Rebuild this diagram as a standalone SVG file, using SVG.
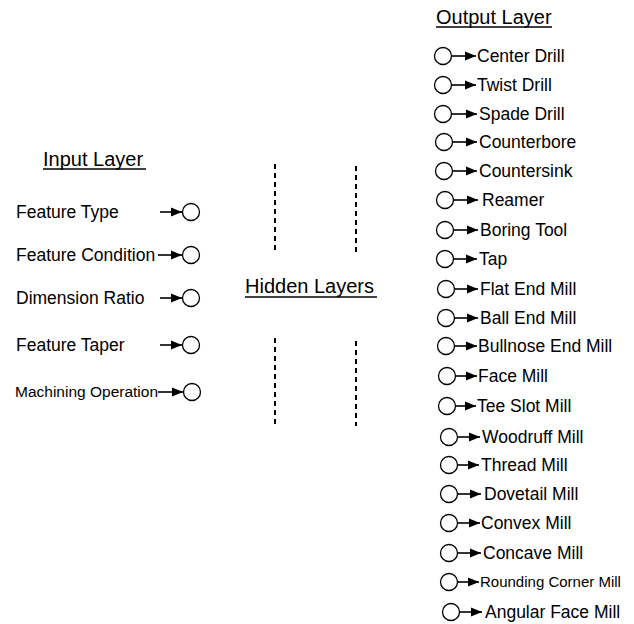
<svg xmlns="http://www.w3.org/2000/svg" width="634" height="624" viewBox="0 0 634 624">
<style>
.h{font-family:"Liberation Sans",Arial,sans-serif;font-size:20px;fill:#000}
.t{font-family:"Liberation Sans",Arial,sans-serif;font-size:17.5px;fill:#000}
.s{font-size:15px}
.m{font-size:15.5px}
.n{fill:#fff;stroke:#000;stroke-width:1.3}
.c{stroke:#000;stroke-width:1.6;fill:none}
.u{stroke:#000;stroke-width:1.4}
.d{stroke:#000;stroke-width:2;stroke-dasharray:5 4}
</style>
<defs>
<marker id="ah" markerUnits="userSpaceOnUse" markerWidth="12" markerHeight="10" refX="11" refY="5" orient="auto">
<path d="M0,0.5 L11,5 L0,9.5 Z" fill="#000"/>
</marker>
</defs>
<rect width="634" height="624" fill="#fff"/>
<g id="headers">
<text class="h" x="43" y="166">Input Layer</text>
<line class="u" x1="43" y1="169" x2="146" y2="169"/>
<text class="h" x="245" y="293">Hidden Layers</text>
<line class="u" x1="245" y1="297" x2="377" y2="297"/>
<text class="h" x="436" y="24">Output Layer</text>
<line class="u" x1="436" y1="27" x2="552" y2="27"/>
</g>
<g id="hidden">
<line class="d" x1="275" y1="164" x2="275" y2="252"/>
<line class="d" x1="356" y1="166" x2="356" y2="253"/>
<line class="d" x1="275" y1="338" x2="275" y2="424"/>
<line class="d" x1="356" y1="341" x2="356" y2="426"/>
</g>
<g id="connectors">
<line class="c" x1="160" y1="212" x2="182" y2="212" marker-end="url(#ah)"/>
<line class="c" x1="158" y1="255" x2="182" y2="255" marker-end="url(#ah)"/>
<line class="c" x1="160" y1="298" x2="182" y2="298" marker-end="url(#ah)"/>
<line class="c" x1="160" y1="345" x2="182" y2="345" marker-end="url(#ah)"/>
<line class="c" x1="158" y1="392" x2="183" y2="392" marker-end="url(#ah)"/>
<line class="c" x1="451" y1="56" x2="476" y2="56" marker-end="url(#ah)"/>
<line class="c" x1="451" y1="85" x2="476" y2="85" marker-end="url(#ah)"/>
<line class="c" x1="451" y1="114" x2="477" y2="114" marker-end="url(#ah)"/>
<line class="c" x1="452" y1="142" x2="477" y2="142" marker-end="url(#ah)"/>
<line class="c" x1="452" y1="171" x2="477" y2="171" marker-end="url(#ah)"/>
<line class="c" x1="453" y1="200" x2="478" y2="200" marker-end="url(#ah)"/>
<line class="c" x1="453" y1="230" x2="478" y2="230" marker-end="url(#ah)"/>
<line class="c" x1="453" y1="259" x2="477" y2="259" marker-end="url(#ah)"/>
<line class="c" x1="454" y1="289" x2="478" y2="289" marker-end="url(#ah)"/>
<line class="c" x1="454" y1="318" x2="478" y2="318" marker-end="url(#ah)"/>
<line class="c" x1="454" y1="346" x2="477" y2="346" marker-end="url(#ah)"/>
<line class="c" x1="455" y1="376" x2="477" y2="376" marker-end="url(#ah)"/>
<line class="c" x1="455" y1="406" x2="476" y2="406" marker-end="url(#ah)"/>
<line class="c" x1="457" y1="437" x2="480" y2="437" marker-end="url(#ah)"/>
<line class="c" x1="457" y1="465" x2="479" y2="465" marker-end="url(#ah)"/>
<line class="c" x1="457" y1="494" x2="481" y2="494" marker-end="url(#ah)"/>
<line class="c" x1="457" y1="523" x2="480" y2="523" marker-end="url(#ah)"/>
<line class="c" x1="457" y1="553" x2="481" y2="553" marker-end="url(#ah)"/>
<line class="c" x1="457" y1="582" x2="479" y2="582" marker-end="url(#ah)"/>
<line class="c" x1="459" y1="612" x2="482" y2="612" marker-end="url(#ah)"/>
</g>
<g id="in-feature-type"><text class="t" x="16" y="218">Feature Type</text><circle class="n" cx="191" cy="212" r="8.5"/></g>
<g id="in-feature-condition"><text class="t" x="16" y="261">Feature Condition</text><circle class="n" cx="191" cy="255" r="8.5"/></g>
<g id="in-dimension-ratio"><text class="t" x="16" y="304">Dimension Ratio</text><circle class="n" cx="191" cy="298" r="8.5"/></g>
<g id="in-feature-taper"><text class="t" x="16" y="351">Feature Taper</text><circle class="n" cx="191" cy="345" r="8.5"/></g>
<g id="in-machining-operation"><text class="t m" x="15" y="397">Machining Operation</text><circle class="n" cx="192" cy="392" r="8.5"/></g>
<g id="out-center-drill"><circle class="n" cx="443" cy="56" r="8.5"/><text class="t" x="477" y="62">Center Drill</text></g>
<g id="out-twist-drill"><circle class="n" cx="443" cy="85" r="8.5"/><text class="t" x="477" y="91">Twist Drill</text></g>
<g id="out-spade-drill"><circle class="n" cx="443" cy="114" r="8.5"/><text class="t" x="479" y="120">Spade Drill</text></g>
<g id="out-counterbore"><circle class="n" cx="444" cy="142" r="8.5"/><text class="t" x="479" y="148">Counterbore</text></g>
<g id="out-countersink"><circle class="n" cx="444" cy="171" r="8.5"/><text class="t" x="479" y="177">Countersink</text></g>
<g id="out-reamer"><circle class="n" cx="445" cy="200" r="8.5"/><text class="t" x="482" y="206">Reamer</text></g>
<g id="out-boring-tool"><circle class="n" cx="445" cy="230" r="8.5"/><text class="t" x="480" y="236">Boring Tool</text></g>
<g id="out-tap"><circle class="n" cx="445" cy="259" r="8.5"/><text class="t" x="479" y="265">Tap</text></g>
<g id="out-flat-end-mill"><circle class="n" cx="446" cy="289" r="8.5"/><text class="t" x="480" y="295">Flat End Mill</text></g>
<g id="out-ball-end-mill"><circle class="n" cx="446" cy="318" r="8.5"/><text class="t" x="480" y="324">Ball End Mill</text></g>
<g id="out-bullnose-end-mill"><circle class="n" cx="446" cy="346" r="8.5"/><text class="t" x="478" y="352">Bullnose End Mill</text></g>
<g id="out-face-mill"><circle class="n" cx="447" cy="376" r="8.5"/><text class="t" x="478" y="382">Face Mill</text></g>
<g id="out-tee-slot-mill"><circle class="n" cx="447" cy="406" r="8.5"/><text class="t" x="477" y="412">Tee Slot Mill</text></g>
<g id="out-woodruff-mill"><circle class="n" cx="449" cy="437" r="8.5"/><text class="t" x="482" y="443">Woodruff Mill</text></g>
<g id="out-thread-mill"><circle class="n" cx="449" cy="465" r="8.5"/><text class="t" x="481" y="471">Thread Mill</text></g>
<g id="out-dovetail-mill"><circle class="n" cx="449" cy="494" r="8.5"/><text class="t" x="484" y="500">Dovetail Mill</text></g>
<g id="out-convex-mill"><circle class="n" cx="449" cy="523" r="8.5"/><text class="t" x="481" y="529">Convex Mill</text></g>
<g id="out-concave-mill"><circle class="n" cx="449" cy="553" r="8.5"/><text class="t" x="483" y="559">Concave Mill</text></g>
<g id="out-rounding-corner-mill"><circle class="n" cx="449" cy="582" r="8.5"/><text class="t s" x="480" y="587">Rounding Corner Mill</text></g>
<g id="out-angular-face-mill"><circle class="n" cx="451" cy="612" r="8.5"/><text class="t" x="485" y="618">Angular Face Mill</text></g>
</svg>
